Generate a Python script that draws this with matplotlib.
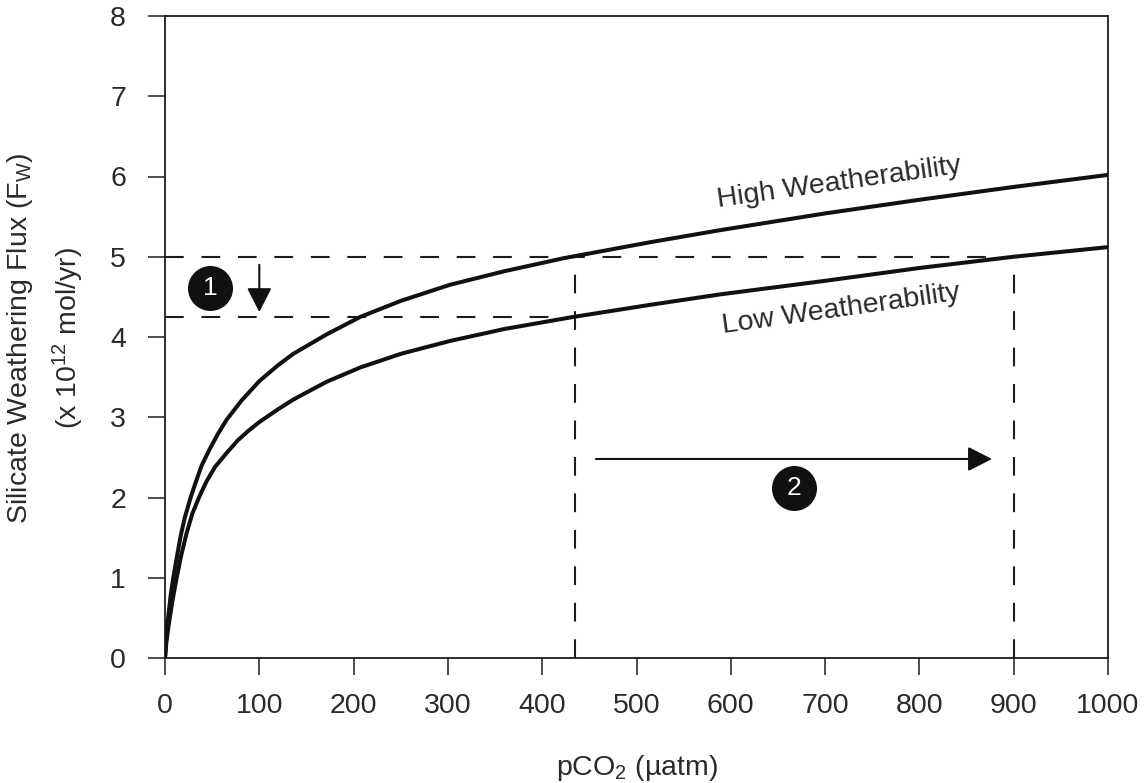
import matplotlib
matplotlib.use("Agg")
import matplotlib.pyplot as plt

plt.rcParams['font.family'] = ['Liberation Sans', 'DejaVu Sans']
plt.rcParams['mathtext.fontset'] = 'custom'
plt.rcParams['mathtext.rm'] = 'Liberation Sans'
plt.rcParams['mathtext.it'] = 'Liberation Sans:italic'
plt.rcParams['mathtext.bf'] = 'Liberation Sans:bold'

# ---- data ----
pco2_high = [0, 1.5, 3.5, 6, 8.8, 12, 16.6, 21, 27.2, 32, 38.9, 47.7, 56.5, 65.4, 81.3,
             100, 120, 136, 171, 207, 250, 302, 360, 422, 514, 588, 700, 800, 900, 1000]
flux_high = [0, 0.28, 0.52, 0.78, 1.0, 1.22, 1.52, 1.75, 2.0, 2.17, 2.40, 2.61, 2.80, 2.97, 3.21,
             3.45, 3.65, 3.79, 4.03, 4.25, 4.45, 4.65, 4.82, 4.98, 5.18, 5.33, 5.54, 5.71, 5.87, 6.02]

pco2_low = [0, 1.5, 3.5, 5.3, 8, 12.4, 17, 23, 29, 36.4, 44, 53, 65, 77, 88.3,
            100, 120, 136, 171, 207, 250, 302, 360, 433, 514, 588, 700, 800, 900, 1000]
flux_low = [0, 0.20, 0.38, 0.52, 0.72, 1.0, 1.27, 1.56, 1.80, 2.01, 2.20, 2.38, 2.55, 2.71, 2.83,
            2.94, 3.10, 3.22, 3.44, 3.62, 3.79, 3.95, 4.10, 4.25, 4.40, 4.53, 4.70, 4.86, 5.0, 5.12]

flux_levels = [5.0, 4.25]          # reference flux levels (dashed horizontals)
pco2_levels = [435, 900]           # reference pCO2 values (dashed verticals)

x_ticks = list(range(0, 1001, 100))
y_ticks = list(range(0, 9))

curve_labels = ['High Weatherability', 'Low Weatherability']
label_pos = [(715, 5.92), (717, 4.34)]

step_labels = ['1', '2']
step_pos = [(47.7, 4.61), (667.5, 2.12)]
arrow1 = [(100, 4.90), (100, 4.31)]
arrow2 = [(457, 2.48), (877, 2.48)]

# ---- figure ----
W, H = 1144, 783
fig = plt.figure(figsize=(W / 100, H / 100), dpi=100)
ax = fig.add_axes([165 / W, 125 / H, 943 / W, 642 / H])
ink = '#1c1c1c'

ax.set_xlim(0, 1000)
ax.set_ylim(0, 8)
ax.set_xticks(x_ticks)
ax.set_yticks(y_ticks)
ax.tick_params(direction='out', length=12, width=1.1, labelsize=20.5,
               colors=ink, labelcolor='#2a2a2a')
ax.tick_params(axis='x', pad=13)
ax.tick_params(axis='y', pad=16)
for s in ax.spines.values():
    s.set_linewidth(1.3)
    s.set_color(ink)

dash = (0, (9, 8.5))
ax.plot([0, pco2_levels[1]], [flux_levels[0], flux_levels[0]], ls=dash, lw=1.5, color=ink)
ax.plot([0, pco2_levels[0]], [flux_levels[1], flux_levels[1]], ls=dash, lw=1.5, color=ink)
ax.plot([pco2_levels[0], pco2_levels[0]], [0, flux_levels[0]], ls=dash, lw=1.5, color=ink)
ax.plot([pco2_levels[1], pco2_levels[1]], [0, flux_levels[0]], ls=dash, lw=1.5, color=ink)

ax.plot(pco2_high, flux_high, color='#111111', lw=2.9, solid_capstyle='butt', zorder=4)
ax.plot(pco2_low, flux_low, color='#111111', lw=2.9, solid_capstyle='butt', zorder=4)

for txt, (x, y) in zip(curve_labels, label_pos):
    ax.text(x, y, txt, rotation=8, rotation_mode='anchor', ha='center', va='center',
            fontsize=20.5, color='#2a2a2a')

aprops = dict(arrowstyle='-|>,head_length=0.55,head_width=0.28', mutation_scale=27,
              lw=1.5, color='#111111', shrinkA=0, shrinkB=0)
ax.annotate('', xy=arrow1[1], xytext=arrow1[0], arrowprops=aprops)
ax.annotate('', xy=arrow2[1], xytext=arrow2[0], arrowprops=aprops)

for txt, (x, y) in zip(step_labels, step_pos):
    ax.scatter([x], [y], s=1050, color='#111111', zorder=6, linewidths=0)
    ax.text(x, y, txt, color='white', fontsize=19, ha='center', va='center', zorder=7)

fig.text(20 / W, 1 - 338 / H, 'Silicate Weathering Flux (F$_\\mathrm{W}$)', rotation=90,
         ha='center', va='center', fontsize=20.5, color='#2a2a2a')
fig.text(68 / W, 1 - 338 / H, '(x 10$^{12}$ mol/yr)', rotation=90,
         ha='center', va='center', fontsize=20.5, color='#2a2a2a')
fig.text(636.5 / W, 8 / H, 'pCO$_2$ (µatm)', ha='center', va='baseline',
         fontsize=20.5, color='#2a2a2a')

fig.savefig('out.png', dpi=100)
